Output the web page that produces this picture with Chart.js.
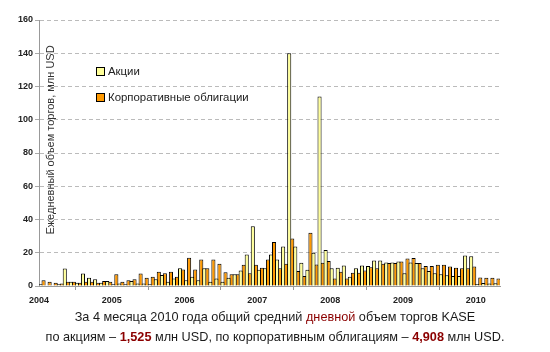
<!DOCTYPE html>
<html>
<head>
<meta charset="utf-8">
<script src="https://cdn.jsdelivr.net/npm/chart.js@4.4.0/dist/chart.umd.min.js"></script>
<style>
  html, body { margin: 0; padding: 0; background: #fff; }
  #wrap { position: relative; width: 550px; height: 352px; }
  #wrap canvas { position: absolute; left: 0; top: 0; }
  .note { position: absolute; left: 0; width: 550px; text-align: center; white-space: nowrap;
          font: 12.7px 'Liberation Sans', Arial, sans-serif; color: #1a1a1a; }
  .red { color: #8b0000; }
  .num { color: #8b0000; font-weight: bold; }
</style>
</head>
<body>
<div id="wrap">
  <canvas id="kase" width="550" height="352"></canvas>
  <div class="note" style="top:310px">За 4 месяца 2010 года общий средний <span class="red">дневной</span> объем торгов KASE</div>
  <div class="note" style="top:330px">по акциям – <span class="num">1,525</span> млн USD, по корпоративным облигациям – <span class="num">4,908</span> млн USD.</div>
</div>
<script>
// year labels, one per 12 months (Jan 2004 .. Apr 2010)
const years = ['2004', '2005', '2006', '2007', '2008', '2009', '2010'];

// monthly average daily volume, mln USD
const shares = [
  1, 0.5, 0.5, 1, 10.5, 2.5, 2, 7.5, 5, 4, 2, 3,
  1, 1.5, 1, 3, 1.5, 1.5, 1, 4, 6.6, 2.5, 4.5, 10.7,
  3.5, 5.5, 3.5, 10.7, 2.5, 4.5, 2.5, 5, 7, 9.3, 19, 36,
  9.7, 10.7, 19, 16, 23.7, 140, 23.7, 14, 9.7, 20, 114, 21.6,
  10.7, 11, 12.3, 5.5, 10.7, 12.3, 12, 15.4, 15.4, 14.2, 14.2, 14.8,
  7.6, 14.2, 13.8, 10.7, 9, 7.6, 7, 6.5, 6, 6, 18.3, 17.9,
  1.2, 1.8, 1.5, 1.6
];
const bonds = [
  3.5, 2.5, 2, 1.5, 2.5, 2.5, 2, 2.5, 2.5, 2, 3, 2.5,
  7, 2.5, 3.5, 4, 7.5, 5, 5.5, 8.6, 7.6, 8.6, 5.5, 10,
  17, 10, 16, 10.7, 16, 13.4, 8.2, 7, 7, 12.8, 7.6, 12.8,
  11, 16, 26.5, 10.7, 13.4, 28.6, 9, 6, 32, 13, 14, 15,
  4.5, 8.6, 4.5, 8, 8, 9.3, 11.3, 10.7, 13.4, 13.8, 13.8, 14.8,
  16.5, 16.9, 13.8, 12, 12, 12.8, 12.8, 11.7, 11, 10.7, 10.7, 11.7,
  5.1, 5.0, 5.0, 4.53
];

const seriesNames = ['Акции', 'Корпоративные облигации'];
const axisTitle = 'Ежедневный объем торгов, млн USD';

const months = shares.length;
const toPoints = arr => arr.map((v, i) => ({ x: i + 0.5, y: v }));

// legend + rotated axis title are drawn inside the plot, like the original
const overlay = {
  id: 'overlay',
  afterDraw(chart) {
    const ctx = chart.ctx;
    ctx.save();
    ctx.translate(51, 140);
    ctx.rotate(-Math.PI / 2);
    ctx.font = '11px "Liberation Sans", Arial, sans-serif';
    ctx.fillStyle = '#333';
    ctx.textAlign = 'center';
    ctx.textBaseline = 'middle';
    ctx.fillText(axisTitle, 0, 0);
    ctx.restore();

    ctx.save();
    ctx.font = '11.4px "Liberation Sans", Arial, sans-serif';
    ctx.textBaseline = 'middle';
    ctx.lineWidth = 1;
    chart.data.datasets.forEach((ds, k) => {
      const y = 72 + k * 26;
      ctx.fillStyle = ds.backgroundColor;
      ctx.fillRect(96.5, y - 4.5, 8, 8);
      ctx.strokeStyle = '#000';
      ctx.strokeRect(96.5, y - 4.5, 8, 8);
      ctx.fillStyle = '#222';
      ctx.fillText(ds.label, 108, y);
    });
    ctx.restore();
  }
};

new Chart(document.getElementById('kase'), {
  type: 'bar',
  data: {
    datasets: [{
      label: seriesNames[0],
      data: toPoints(shares),
      backgroundColor: '#ffff99',
      borderColor: '#000',
      borderWidth: 1
    }, {
      label: seriesNames[1],
      data: toPoints(bonds),
      backgroundColor: '#ff9900',
      borderColor: '#000',
      borderWidth: 1
    }]
  },
  options: {
    responsive: false,
    animation: false,
    categoryPercentage: 1,
    barPercentage: 1.35,
    layout: { padding: { left: 0, right: 50, top: 20, bottom: 0 } },
    plugins: {
      legend: { display: false },
      tooltip: { enabled: false }
    },
    scales: {
      x: {
        type: 'linear',
        offset: false,
        min: 0,
        max: months,
        afterBuildTicks: scale => {
          scale.ticks = years.map((y, k) => ({ value: k * 12 }));
        },
        afterFit: scale => { scale.height = 66; },
        grid: { display: true, drawOnChartArea: false, color: '#999', tickLength: 4 },
        border: { color: '#999' },
        ticks: {
          autoSkip: false,
          maxRotation: 0,
          padding: 5,
          color: '#222',
          font: { family: 'Liberation Sans', size: 9, weight: 'bold' },
          callback: (v, i) => years[i]
        }
      },
      y: {
        min: 0,
        max: 160,
        afterFit: scale => { scale.width = 39; },
        grid: { color: '#bbb', tickLength: 4, tickColor: '#aaa' },
        border: { color: '#999', dash: [4, 3] },
        ticks: {
          stepSize: 20,
          padding: 2,
          color: '#222',
          font: { family: 'Liberation Sans', size: 9, weight: 'bold' }
        }
      }
    }
  },
  plugins: [overlay]
});
</script>
</body>
</html>
